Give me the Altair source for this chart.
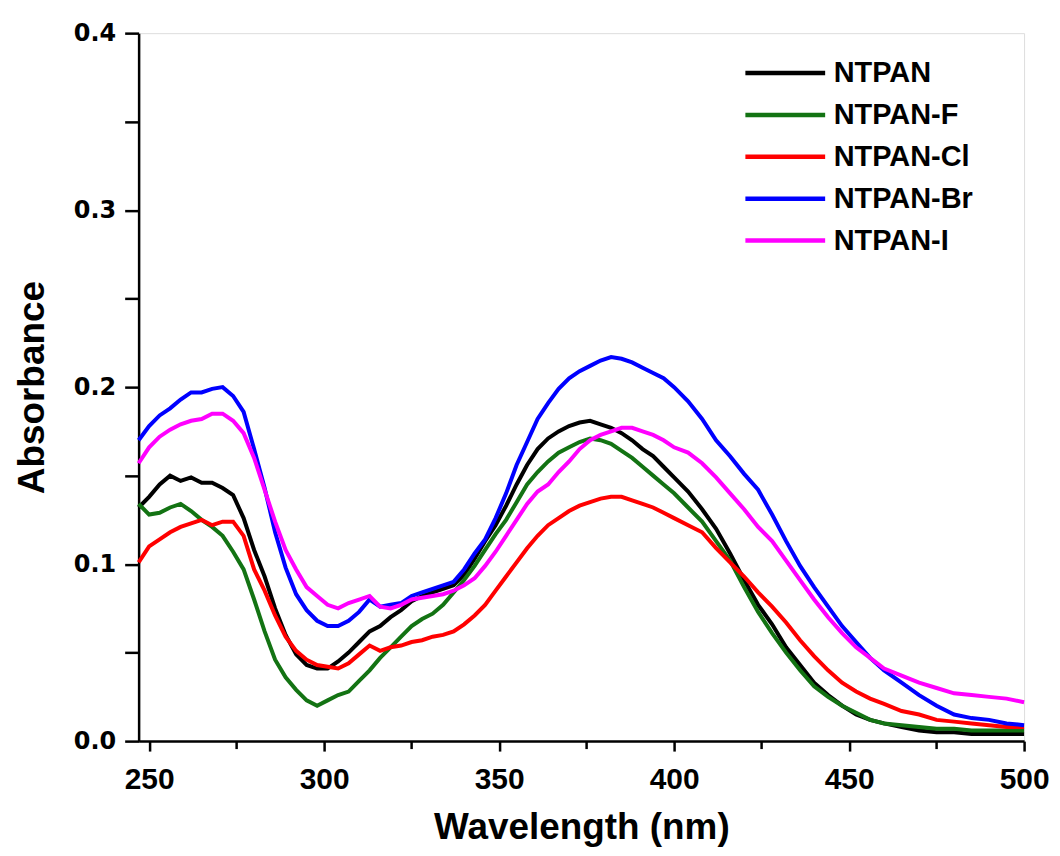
import altair as alt
import pandas as pd

wavelength = [247, 250, 253, 256, 259, 262, 265, 268, 271, 274,
              277, 280, 283, 286, 289, 292, 295, 298, 301, 304,
              307, 310, 313, 316, 319, 322, 325, 328, 331, 334,
              337, 340, 343, 346, 349, 352, 355, 358, 361, 364,
              367, 370, 373, 376, 379, 382, 385, 388, 391, 394,
              397, 400, 404, 408, 412, 416, 420, 424, 428, 432,
              436, 440, 444, 448, 452, 456, 460, 465, 470, 475,
              480, 485, 490, 495, 500]

ntpan = [.132, .138, .145, .150, .147, .149, .146, .146, .143, .139,
         .126, .108, .093, .075, .060, .049, .043, .041, .041, .045,
         .050, .056, .062, .065, .070, .074, .079, .082, .084, .086,
         .088, .094, .103, .113, .122, .133, .145, .156, .165, .171,
         .175, .178, .180, .181, .179, .177, .174, .170, .165, .161,
         .155, .149, .141, .131, .120, .106, .091, .077, .066, .053,
         .043, .033, .026, .020, .015, .012, .010, .008, .006, .005,
         .005, .004, .004, .004, .004]

ntpan_f = [.134, .128, .129, .132, .134, .130, .125, .121, .116, .107,
           .097, .080, .062, .046, .036, .029, .023, .020, .023, .026,
           .028, .034, .040, .047, .053, .059, .065, .069, .072, .077,
           .084, .091, .099, .108, .117, .125, .135, .145, .152, .158,
           .163, .166, .169, .171, .170, .168, .164, .160, .155, .150,
           .145, .140, .132, .124, .113, .102, .087, .073, .061, .050,
           .040, .031, .025, .020, .016, .012, .010, .009, .008, .007,
           .007, .006, .006, .006, .006]

ntpan_cl = [.101, .110, .114, .118, .121, .123, .125, .122, .124, .124,
            .116, .097, .085, .071, .059, .051, .046, .043, .042, .041,
            .044, .049, .054, .051, .053, .054, .056, .057, .059, .060,
            .062, .066, .071, .077, .085, .093, .101, .109, .116, .122,
            .126, .130, .133, .135, .137, .138, .138, .136, .134, .132,
            .129, .126, .122, .118, .109, .101, .093, .084, .076, .067,
            .057, .048, .040, .033, .028, .024, .021, .017, .015, .012,
            .011, .010, .009, .008, .008]

ntpan_br = [.170, .178, .184, .188, .193, .197, .197, .199, .200, .195,
            .186, .165, .143, .118, .098, .083, .074, .068, .065, .065,
            .068, .073, .080, .076, .077, .078, .082, .084, .086, .088,
            .090, .097, .106, .114, .126, .140, .156, .169, .182, .191,
            .199, .205, .209, .212, .215, .217, .216, .214, .211, .208,
            .205, .200, .192, .182, .170, .161, .151, .142, .128, .113,
            .099, .087, .076, .065, .056, .047, .040, .033, .026, .020,
            .015, .013, .012, .010, .009]

ntpan_i = [.157, .166, .172, .176, .179, .181, .182, .185, .185, .181,
           .174, .160, .142, .124, .108, .097, .087, .082, .077, .075,
           .078, .080, .082, .076, .075, .077, .080, .081, .082, .083,
           .085, .088, .092, .099, .107, .116, .125, .134, .141, .145,
           .152, .158, .165, .170, .173, .175, .177, .177, .175, .173,
           .170, .166, .163, .157, .149, .140, .131, .121, .113, .102,
           .091, .080, .070, .061, .053, .047, .041, .037, .033, .030,
           .027, .026, .025, .024, .022]

names = ["NTPAN", "NTPAN-F", "NTPAN-Cl", "NTPAN-Br", "NTPAN-I"]
colors = ["#000000", "#137313", "#ff0000", "#0000ff", "#ff00ff"]
series = [ntpan, ntpan_f, ntpan_cl, ntpan_br, ntpan_i]

x_minor = [275, 325, 375, 425, 475]

rows = []
for name, vals in zip(names, series):
    for w, v in zip(wavelength, vals):
        rows.append({"Wavelength": w, "Absorbance": v, "Sample": name})
df = pd.DataFrame(rows)

W, H = 888, 710

xscale = alt.Scale(domain=[247, 500], nice=False, zero=False)
yscale = alt.Scale(domain=[0, 0.4], nice=False)

lines = alt.Chart(df).mark_line(strokeWidth=4).encode(
    x=alt.X("Wavelength:Q", scale=xscale,
            title="Wavelength (nm)",
            axis=alt.Axis(values=[250, 300, 350, 400, 450, 500],
                          tickSize=10, tickWidth=2.5, tickColor="black",
                          domainWidth=2.5, domainColor="black",
                          labelFont="Liberation Sans", labelFontSize=30,
                          labelFontWeight="bold", labelColor="black",
                          labelPadding=14, labelFlush=False,
                          titleFont="Liberation Sans", titleFontSize=37,
                          titleFontWeight="bold", titleColor="black",
                          titlePadding=15, grid=False)),
    y=alt.Y("Absorbance:Q", scale=yscale,
            title="Absorbance",
            axis=alt.Axis(values=[0, 0.05, 0.1, 0.15, 0.2, 0.25, 0.3, 0.35, 0.4],
                          labelExpr="round(datum.value*100) % 10 == 0 ? format(datum.value, '.1f') : ''",
                          tickSize=14, tickWidth=2.5, tickColor="black",
                          domainWidth=2.5, domainColor="black",
                          labelFont="DejaVu Sans", labelFontSize=24,
                          labelFontWeight="bold", labelColor="black",
                          labelPadding=9,
                          titleFont="Liberation Sans", titleFontSize=37,
                          titleFontWeight="bold", titleColor="black",
                          titlePadding=22, grid=False)),
    color=alt.Color("Sample:N",
                    scale=alt.Scale(domain=names, range=colors),
                    sort=names,
                    legend=alt.Legend(title=None, orient="none",
                                      legendX=606, legendY=25,
                                      symbolType="stroke", symbolSize=6400,
                                      symbolStrokeWidth=4.5,
                                      labelFont="Liberation Sans",
                                      labelFontSize=29, labelFontWeight="bold",
                                      labelColor="black", labelOffset=6,
                                      clipHeight=30, rowPadding=12, padding=0)),
    order=alt.Order("Wavelength:Q"),
)

minor_df = pd.DataFrame({"Wavelength": x_minor})
minor = alt.Chart(minor_df).mark_rule(color="black", strokeWidth=2.5).encode(
    x=alt.X("Wavelength:Q", scale=xscale),
    y=alt.value(H),
    y2=alt.value(H + 8),
)

chart = alt.layer(lines, minor).properties(
    width=W, height=H,
    autosize=alt.AutoSizeParams(type="none"),
    padding={"left": 131, "top": 24, "right": 28, "bottom": 112},
).configure_view(stroke="black", strokeWidth=2.5).configure(background="white")

chart.save("out.html", embed_options={"renderer": "svg", "actions": False})
